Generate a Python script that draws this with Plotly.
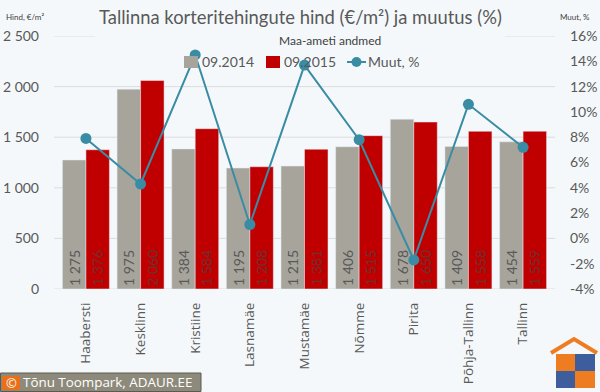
import plotly.graph_objects as go

categories = ["Haabersti", "Kesklinn", "Kristiine", "Lasnamäe", "Mustamäe",
              "Nõmme", "Pirita", "Põhja-Tallinn", "Tallinn"]
price_2014 = [1275, 1975, 1384, 1195, 1215, 1406, 1678, 1409, 1454]
price_2015 = [1376, 2060, 1584, 1208, 1381, 1515, 1650, 1558, 1559]
change_pct = [7.9, 4.3, 14.5, 1.1, 13.7, 7.8, -1.7, 10.6, 7.2]
left_ticks = [0, 500, 1000, 1500, 2000, 2500]
right_ticks = [-4, -2, 0, 2, 4, 6, 8, 10, 12, 14, 16]
right_labels = [f"{v}%" for v in right_ticks]
series_names = ["09.2014", "09.2015", "Muut, %"]

W, H = 600, 392
ML, MR, MT, MB = 54, 45, 36, 103
PW, PH = W - ML - MR, H - MT - MB
BG = "#f4f8fa"
FONT = "Lato"
GRAY = "#595959"
C14, C15, CL = "#a6a49b", "#c00000", "#3a8ca4"


def px(x):
    return (x - ML) / PW


def py(y):
    return (H - MB - y) / PH


fig = go.Figure()
fig.add_trace(go.Bar(
    x=categories, y=price_2014, name=series_names[0], marker_color=C14,
    text=price_2014, texttemplate="%{y:,d}", textposition="inside",
    insidetextanchor="start", textangle=-90,
    textfont=dict(size=14, color=GRAY, family=FONT),
))
fig.add_trace(go.Bar(
    x=categories, y=price_2015, name=series_names[1], marker_color=C15,
    text=price_2015, texttemplate="%{y:,d}", textposition="inside",
    insidetextanchor="start", textangle=-90,
    textfont=dict(size=14, color="#6e3030", family=FONT),
))
fig.add_trace(go.Scatter(
    x=categories, y=change_pct, name=series_names[2], yaxis="y2",
    mode="lines+markers", line=dict(color=CL, width=2),
    marker=dict(size=11, color=CL),
))

shapes = []
for v in left_ticks:
    if v == 2500:
        segs = [(0, px(95)), (px(505), 1)]
    else:
        segs = [(0, 1)]
    for a, b in segs:
        shapes.append(dict(type="line", xref="paper", yref="y", x0=a, x1=b,
                           y0=v, y1=v, line=dict(color="#dcdcdc", width=1),
                           layer="below"))

LY = 62
shapes.append(dict(type="rect", xref="paper", yref="paper", x0=px(184), x1=px(198),
                   y0=py(LY - 6), y1=py(LY + 6), fillcolor=C14, line=dict(width=0)))
shapes.append(dict(type="rect", xref="paper", yref="paper", x0=px(266), x1=px(280),
                   y0=py(LY - 6), y1=py(LY + 6), fillcolor=C15, line=dict(width=0)))
shapes.append(dict(type="line", xref="paper", yref="paper", x0=px(347), x1=px(366),
                   y0=py(LY), y1=py(LY), line=dict(color=CL, width=2)))
shapes.append(dict(type="circle", xref="paper", yref="paper", x0=px(351.5), x1=px(361.5),
                   y0=py(LY - 5), y1=py(LY + 5), fillcolor=CL, line=dict(width=0)))

ORANGE, BLUE = "#ee7d22", "#3e5d9c"
shapes.append(dict(type="path", xref="paper", yref="paper",
                   path=f"M {px(551)} {py(353)} L {px(574)} {py(339)} L {px(597)} {py(353)}",
                   line=dict(color=ORANGE, width=4), layer="above"))
for (x0, y0, x1, y1, c) in [(556, 354, 575, 371, ORANGE), (575, 354, 595, 371, BLUE),
                            (556, 371, 575, 388, BLUE), (575, 371, 595, 388, ORANGE)]:
    shapes.append(dict(type="rect", xref="paper", yref="paper",
                       x0=px(x0), x1=px(x1), y0=py(y0), y1=py(y1),
                       fillcolor=c, line=dict(width=0), layer="above"))
shapes.append(dict(type="rect", xref="paper", yref="paper",
                   x0=px(0.5), x1=px(201), y0=py(373), y1=py(391.5),
                   fillcolor="#8d8a7b", line=dict(color="#5a5a50", width=1), layer="above"))
shapes.append(dict(type="rect", xref="paper", yref="paper",
                   x0=px(2), x1=px(20), y0=py(376), y1=py(390),
                   fillcolor="#e8701a", line=dict(width=0), layer="above"))


def note(text, x, y, size, color=GRAY, xanchor="center", family=FONT):
    return dict(text=text, x=px(x), y=py(y), xref="paper", yref="paper",
                xanchor=xanchor, yanchor="middle", showarrow=False,
                font=dict(size=size, color=color, family=family))


annotations = [
    note("Tallinna korteritehingute hind (€/m²) ja muutus (%)", 300, 17, 18.4),
    note("Maa-ameti andmed", 330, 40, 12, "#404040"),
    note("Hind, €/m²", 4, 17, 8, "#404040", "left"),
    note("Muut, %", 558, 17, 8, "#404040", "left"),
    note(series_names[0], 200, LY, 14, GRAY, "left"),
    note(series_names[1], 282, LY, 14, GRAY, "left"),
    note(series_names[2], 366, LY, 14, GRAY, "left"),
    note("©", 11, 383, 13, "white", "center", "Open Sans"),
    note("Tõnu Toompark, ADAUR.EE", 21, 382.5, 13.4, "white", "left", "Open Sans"),
]

fig.update_layout(
    width=W, height=H,
    margin=dict(l=ML, r=MR, t=MT, b=MB, autoexpand=False),
    paper_bgcolor=BG, plot_bgcolor="rgba(0,0,0,0)",
    separators=", ",
    barmode="group", bargap=0.14, bargroupgap=0,
    font=dict(family=FONT, color=GRAY),
    showlegend=False,
    xaxis=dict(tickangle=-90, tickfont=dict(size=13.5, color=GRAY, family="Open Sans"),
               showgrid=False, showline=False, ticks="", ticklabelstandoff=10,
               automargin=False),
    yaxis=dict(range=[0, 2500], tickvals=left_ticks, tickformat=",d", showgrid=False,
               zeroline=False, tickfont=dict(size=14, color=GRAY), ticklabelstandoff=14,
               automargin=False),
    yaxis2=dict(range=[-4, 16], tickvals=right_ticks, ticktext=right_labels, overlaying="y",
                side="right", showgrid=False, zeroline=False,
                tickfont=dict(size=14, color=GRAY), ticklabelstandoff=14, automargin=False),
    shapes=shapes,
    annotations=annotations,
)

fig.write_html("out.html", config={"displayModeBar": False},
               post_script="document.body.style.margin='0';document.body.style.overflow='hidden';")
